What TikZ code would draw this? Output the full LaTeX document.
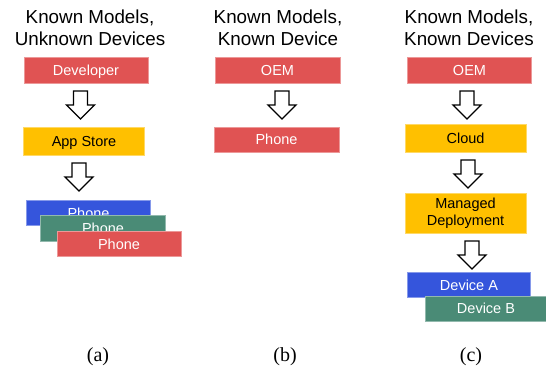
\documentclass[tikz,border=0pt]{standalone}
\usepackage{fontspec}
\setmainfont{Liberation Sans}
\newfontfamily\capfont{Liberation Serif}
\definecolor{bxred}{HTML}{E05353}
\definecolor{bxyellow}{HTML}{FFC000}
\definecolor{bxblue}{HTML}{3555DC}
\definecolor{bxgreen}{HTML}{4A8B76}
\tikzset{
  box/.style={rectangle, inner sep=0pt, line width=0.7pt, font=\fontsize{14.5}{17}\selectfont, align=center},
  oneline/.style={text height=10.4pt, text depth=0pt},
  redbox/.style={box, fill=bxred, draw=bxred!60!white, text=white},
  bluebox/.style={box, fill=bxblue, draw=bxblue!60!white, text=white},
  greenbox/.style={box, fill=bxgreen, draw=bxgreen!60!white, text=white},
  yelbox/.style={box, fill=bxyellow, draw=bxyellow!60!white, text=black},
  title/.style={align=center, inner sep=0pt, font=\fontsize{18.8}{22.2}\selectfont},
  caption/.style={inner sep=0pt, font=\capfont\fontsize{20}{22}\selectfont},
  blockarrow/.pic={\draw[line width=1.3pt, fill=white, line join=miter]
     (-7,0) -- (7,0) -- (7,14) -- (14,14) -- (0,28) -- (-14,14) -- (-7,14) -- cycle;}
}
\begin{document}
\begin{tikzpicture}[x=1pt,y=-1pt]
\useasboundingbox[fill=white] (0,0) rectangle (546,378);
% titles
\node[title] (ta) at (90,28) {Known Models,\\Unknown Devices};
\node[title] (tb) at (278,28) {Known Models,\\Known Device};
\node[title] (tc) at (469,28) {Known Models,\\Known Devices};
% column a
\node[redbox, oneline, minimum width=124, minimum height=26] (dev) at (86,70) {Developer};
\pic at (80.5,91) {blockarrow};
\node[yelbox, oneline, minimum width=121, minimum height=28] (store) at (84,141) {App Store};
\pic at (79,163) {blockarrow};
\node[bluebox, oneline, minimum width=124, minimum height=25] (pha) at (88.5,213) {Phone};
\node[greenbox, oneline, minimum width=125, minimum height=26] (phb) at (103,228) {Phone};
\node[redbox, oneline, minimum width=124, minimum height=25] (phc) at (119,244.2) {Phone};
% column b
\node[redbox, oneline, minimum width=125, minimum height=26] (oemb) at (277.5,70) {OEM};
\pic at (282,91) {blockarrow};
\node[redbox, oneline, minimum width=125, minimum height=25] (phoneb) at (276.5,139.5) {Phone};
% column c
\node[redbox, oneline, minimum width=124, minimum height=26] (oemc) at (469.5,70) {OEM};
\pic at (467,91) {blockarrow};
\node[yelbox, oneline, minimum width=121, minimum height=28] (cloud) at (465.5,138) {Cloud};
\pic at (468,160) {blockarrow};
\node[yelbox, minimum width=121, minimum height=40] (managed) at (465.5,213.3) {Managed\\Deployment};
\pic at (472,241) {blockarrow};
\node[bluebox, oneline, minimum width=123.5, minimum height=25] (deva) at (469,285) {Device A};
\node[greenbox, oneline, minimum width=121, minimum height=25] (devb) at (486,308.4) {Device B};
% captions
\node[caption] (ca) at (98,357) {(a)};
\node[caption] (cb) at (285,357) {(b)};
\node[caption] (cc) at (471,357) {(c)};
\end{tikzpicture}
\end{document}
